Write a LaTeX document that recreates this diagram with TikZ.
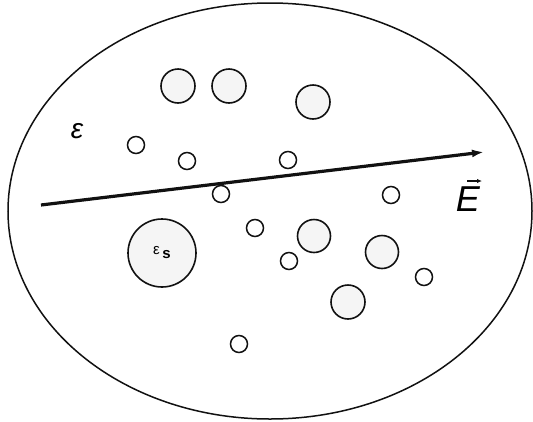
\documentclass[tikz,border=0pt]{standalone}
\usepackage{fontspec}
\setmainfont{Liberation Sans}
\usepackage{tikz}
\usetikzlibrary{arrows.meta,shapes.geometric}
\definecolor{ink}{HTML}{111111}
\definecolor{speckle}{HTML}{F5F5F5}

\begin{document}
\begin{tikzpicture}[
  x=1pt, y=-1pt,
  medium/.style={draw=ink, ellipse, line width=1.5pt, minimum width=524pt, minimum height=416pt, inner sep=0pt},
  pore/.style={draw=ink, circle, line width=1.5pt, fill=white, minimum size=17pt, inner sep=0pt},
  grain/.style={draw=ink, circle, line width=1.6pt, fill=speckle, minimum size=34pt, inner sep=0pt},
  field/.style={-{Latex[length=12pt, width=8pt]}, line width=3.2pt, ink}
]
\useasboundingbox (0,0) rectangle (533,421);
\node[medium] (host) at (270,211) {};
% inclusions
\node[grain] (g1) at (178,86) {};
\node[grain] (g2) at (229,86) {};
\node[grain] (g3) at (313,102) {};
\node[grain, minimum size=33pt] (g4) at (314,236) {};
\node[grain, minimum size=33pt] (g5) at (382,252) {};
\node[grain] (g6) at (348,302) {};
\node[grain, minimum size=68pt, font=\fontsize{15}{15}\selectfont] (big) at (162,253)
  {ε\,\raisebox{-4pt}{\bfseries s}};
% small holes
\node[pore] (p1) at (136,145) {};
\node[pore] (p2) at (187,161) {};
\node[pore] (p3) at (288,160) {};
\node[pore] (p4) at (221,194) {};
\node[pore] (p5) at (391,195) {};
\node[pore] (p6) at (255,228) {};
\node[pore] (p7) at (289,261) {};
\node[pore] (p8) at (424,277) {};
\node[pore] (p9) at (239,344) {};
% field
\coordinate (fstart) at (41,205);
\coordinate (fend) at (484,152);
\draw[field] (fstart) -- (fend);
\node[font=\fontsize{28}{28}\selectfont\itshape] (eps) at (77,131) {ε};
\node[font=\fontsize{36}{36}\selectfont\itshape, inner sep=0pt, anchor=north] (efield) at (468,187) {E};
\draw[-{Latex[length=5pt, width=4.5pt]}, line width=1.2pt, ink]
  ([xshift=-1pt, yshift=6pt]efield.north) -- ([xshift=14pt, yshift=6pt]efield.north);
\end{tikzpicture}
\end{document}
